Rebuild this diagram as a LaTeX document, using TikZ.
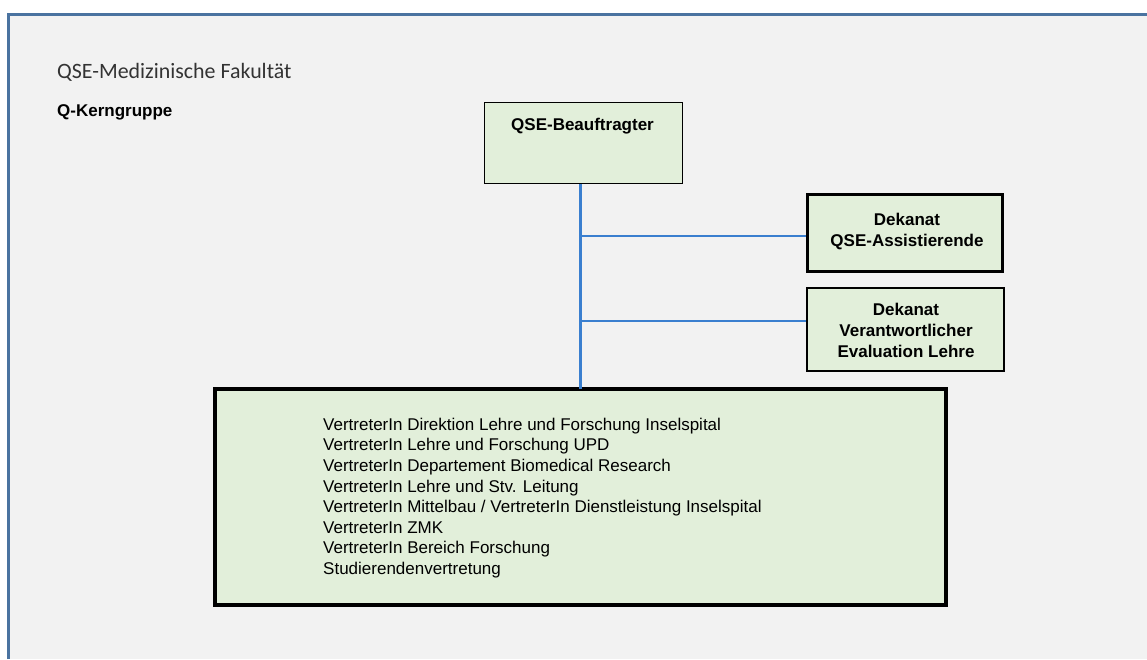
\documentclass[tikz,border=0pt]{standalone}
\usepackage{fontspec}
\setmainfont{Liberation Sans}
\newfontfamily\calib{Carlito}
\definecolor{framebl}{HTML}{4A73A0}
\definecolor{linkbl}{HTML}{3A7FCF}
\definecolor{boxgr}{HTML}{E2EFDA}
\definecolor{pagegr}{HTML}{F2F2F2}
\tikzset{
  box/.style={draw=black, fill=boxgr, inner sep=0pt},
  boldtxt/.style={font=\bfseries\fontsize{17}{21}\selectfont, align=center, inner sep=0pt},
  link/.style={draw=linkbl, line width=2.5pt},
}
\begin{document}
\begin{tikzpicture}[x=1pt,y=-1pt]
\useasboundingbox (0,0) rectangle (1147,659);
\fill[white] (0,0) rectangle (1147,659);
\fill[pagegr] (8.5,14) rectangle (1147,659);
\draw[framebl, line width=3pt] (8.5,659) -- (8.5,14) -- (1147,14);

\node[anchor=base west, font=\calib\fontsize{21.9}{25}\selectfont, text=black!80, inner sep=0pt] (title) at (57,78) {QSE-Medizinische Fakultät};
\node[anchor=base west, font=\bfseries\fontsize{17}{19}\selectfont, inner sep=0pt] (kg) at (57,116) {Q-Kerngruppe};

% boxes
\node[box, line width=1.2pt, minimum width=198pt, minimum height=81pt] (qseb) at (583.5,143) {};
\node[boldtxt, anchor=base] (qsebt) at (582.5,130) {QSE-Beauftragter};

\node[box, line width=3pt, minimum width=195pt, minimum height=77pt] (dek1) at (905,233) {};
\node[boldtxt, anchor=base] (dek1t) at (907,246) {Dekanat\\QSE-Assistierende};

\node[box, line width=2pt, minimum width=197pt, minimum height=83pt] (dek2) at (905.5,329.5) {};
\node[boldtxt, anchor=base] (dek2t) at (906,357) {Dekanat\\Verantwortlicher\\Evaluation Lehre};

\node[box, line width=4pt, minimum width=731pt, minimum height=216pt] (kern) at (580.5,497) {};
\node[anchor=north west, inner sep=0pt, align=left, font=\fontsize{17}{20.6}\selectfont] (kernt) at (323,417.8) {VertreterIn Direktion Lehre und Forschung Inselspital\\
VertreterIn Lehre und Forschung UPD\\
VertreterIn Departement Biomedical Research\\
VertreterIn Lehre und Stv. Leitung\\
VertreterIn Mittelbau / VertreterIn Dienstleistung Inselspital\\
VertreterIn ZMK\\
VertreterIn Bereich Forschung\\
Studierendenvertretung};

% connectors
\draw[link] (kern.north |- qseb.south) -- ([yshift=-2pt]kern.north);
\draw[link] ([yshift=-3pt]kern.north |- dek1.west) -- ([yshift=-3pt]dek1.west);
\draw[link] ([yshift=8.5pt]kern.north |- dek2.west) -- ([yshift=8.5pt]dek2.west);
\end{tikzpicture}
\end{document}
